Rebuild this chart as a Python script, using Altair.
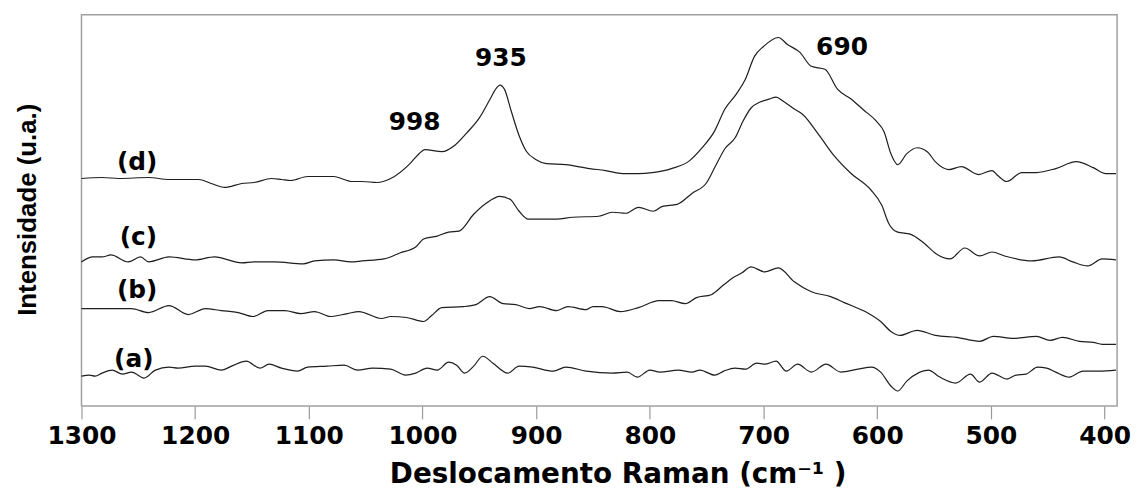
import altair as alt
import pandas as pd

# Raman shift (cm-1) and relative intensity
a_x = [1300, 1293, 1288, 1282, 1273, 1264, 1256, 1245, 1235, 1223, 1215, 1200, 1191, 1177, 1168,
       1155, 1143, 1135, 1124, 1110, 1101, 1084, 1069, 1057, 1044, 1028, 1015, 1006, 996, 987,
       977, 970, 963, 955, 947, 938, 925, 915, 903, 885, 874, 856, 833, 820, 811, 800, 791, 775,
       763, 756, 743, 735, 725, 716, 706, 699, 689, 680, 670, 658, 645, 632, 617, 605, 597, 588,
       582, 574, 555, 545, 531, 518, 510, 499, 486, 478, 469, 459, 451, 443, 431, 419, 405, 390]
a_y = [30, 31, 30, 33, 36, 32, 34, 28, 36, 39, 38, 40, 40, 36, 40, 45, 38, 42, 38, 35, 39, 40,
       41, 36, 38, 37, 31, 33, 38, 36, 44, 41, 33, 40, 50, 43, 33, 40, 39, 35, 39, 35, 33, 34,
       29, 36, 34, 36, 34, 36, 31, 35, 38, 37, 43, 42, 45, 35, 42, 34, 42, 34, 37, 39, 34, 20,
       15, 25, 36, 29, 23, 32, 24, 33, 27, 31, 32, 39, 38, 34, 29, 35, 35, 36]

b_x = [1300, 1276, 1256, 1241, 1223, 1206, 1191, 1177, 1162, 1149, 1136, 1121, 1107, 1095, 1081,
       1066, 1056, 1036, 1028, 1014, 999, 992, 983, 964, 953, 941, 929, 918, 906, 897, 882, 872,
       856, 850, 842, 826, 810, 792, 781, 769, 759, 746, 735, 727, 719, 711, 699, 687, 673, 658,
       641, 629, 609, 597, 588, 580, 565, 549, 530, 510, 498, 480, 460, 448, 437, 422, 410, 402, 390]
b_y = [98, 98, 98, 94, 101, 92, 98, 96, 94, 90, 96, 96, 93, 95, 90, 93, 95, 88, 90, 89, 85, 91,
       99, 100, 102, 110, 103, 102, 98, 100, 96, 100, 97, 100, 100, 95, 99, 106, 106, 103, 109,
       112, 122, 129, 134, 140, 135, 139, 125, 115, 110, 104, 94, 85, 75, 71, 76, 71, 69, 65,
       70, 68, 70, 66, 69, 65, 64, 62, 62]

c_x = [1300, 1290, 1282, 1274, 1259, 1248, 1241, 1223, 1200, 1183, 1159, 1148, 1130, 1105, 1095,
       1078, 1063, 1053, 1034, 1020, 1006, 999, 987, 977, 968, 955, 944, 932, 923, 915, 907, 894,
       882, 868, 845, 833, 821, 810, 797, 789, 776, 763, 750, 743, 734, 725, 718, 711, 703, 695,
       689, 683, 673, 666, 652, 638, 623, 606, 596, 590, 582, 571, 559, 548, 536, 523, 510, 499,
       488, 464, 440, 428, 415, 402, 390]
c_y = [145, 150, 150, 152, 145, 150, 145, 150, 147, 150, 144, 145, 145, 143, 146, 147, 145, 146,
       148, 154, 160, 168, 171, 175, 176, 193, 204, 211, 208, 196, 188, 188, 188, 190, 191, 195,
       194, 200, 196, 201, 203, 214, 225, 240, 259, 270, 287, 300, 306, 309, 311, 307, 299, 294,
       274, 252, 234, 218, 202, 184, 175, 173, 164, 153, 148, 159, 151, 155, 151, 146, 150, 145,
       141, 148, 147]

d_x = [1300, 1282, 1267, 1241, 1223, 1209, 1197, 1186, 1174, 1159, 1148, 1133, 1124, 1116, 1101,
       1078, 1069, 1063, 1053, 1040, 1028, 1011, 1003, 998, 983, 971, 961, 950, 941, 935, 932,
       928, 922, 915, 909, 900, 891, 874, 853, 839, 824, 810, 798, 781, 765, 754, 743, 734, 724,
       716, 708, 700, 687, 679, 668, 658, 646, 635, 623, 612, 601, 594, 588, 582, 574, 565, 556,
       549, 537, 526, 511, 499, 494, 486, 473, 460, 443, 425, 410, 399, 390]
d_y = [229, 230, 229, 230, 228, 228, 228, 224, 220, 224, 225, 229, 228, 227, 231, 231, 228, 226,
       226, 225, 229, 244, 254, 258, 256, 263, 275, 290, 308, 320, 323, 319, 297, 272, 257, 248,
       244, 243, 239, 237, 234, 234, 235, 239, 247, 260, 277, 299, 314, 329, 352, 362, 371, 364,
       356, 342, 339, 319, 309, 298, 287, 276, 254, 243, 254, 260, 256, 246, 238, 241, 233, 237,
       232, 226, 235, 235, 239, 246, 240, 234, 234]

# Curve labels and peak annotations (data coordinates)
label_text = ["(a)", "(b)", "(c)", "(d)", "998", "935", "690"]
label_x = [1254, 1251, 1250, 1251, 1007, 931, 631]
label_y = [47, 117, 170, 246, 286, 350, 361]

tick_values = [1300, 1200, 1100, 1000, 900, 800, 700, 600, 500, 400]

rows = []
for name, xs, ys in [("a", a_x, a_y), ("b", b_x, b_y), ("c", c_x, c_y), ("d", d_x, d_y)]:
    for xv, yv in zip(xs, ys):
        rows.append({"serie": name, "wn": xv, "inten": yv})
df = pd.DataFrame(rows)
lab = pd.DataFrame({"wn": label_x, "inten": label_y, "txt": label_text})

xscale = alt.Scale(domain=[389, 1300], reverse=True, nice=False, zero=False)
yscale = alt.Scale(domain=[0, 394], nice=False, zero=False)

xaxis = alt.Axis(
    title="Deslocamento Raman (cm⁻¹ )", values=tick_values, format="d", grid=False, domain=False,
    tickColor="#999999", tickSize=13, tickWidth=1.2,
    labelFont="DejaVu Sans", labelFontWeight="bold", labelFontSize=25, labelColor="black",
    labelPadding=5, labelFlush=False, labelOverlap=False,
    titleFont="DejaVu Sans", titleFontSize=28, titleFontWeight="bold", titleColor="black",
    titleX=540, titleY=77, titleBaseline="alphabetic", titleAlign="center",
)
yaxis = alt.Axis(
    title="Intensidade (u.a.)", labels=False, ticks=False, domain=False, grid=False,
    titleFont="Liberation Sans", titleFontSize=26, titleFontWeight="bold", titleColor="black",
    titleAngle=270, titleX=-46, titleY=196, titleAlign="center", titleBaseline="alphabetic",
)

lines = alt.Chart(df).mark_line(color="#1e1e1e", strokeWidth=1.2, interpolate="monotone").encode(
    x=alt.X("wn:Q", scale=xscale, axis=xaxis),
    y=alt.Y("inten:Q", scale=yscale, axis=yaxis),
    detail="serie:N",
)

texts = alt.Chart(lab).mark_text(
    font="DejaVu Sans", fontWeight="bold", fontSize=25, color="black",
    align="center", baseline="middle",
).encode(
    x=alt.X("wn:Q", scale=xscale, axis=xaxis),
    y=alt.Y("inten:Q", scale=yscale, axis=yaxis),
    text="txt:N",
)

chart = alt.layer(lines, texts).properties(
    width=1043, height=394,
    autosize=alt.AutoSizeParams(type="none"),
    padding={"left": 74, "top": 5, "right": 16, "bottom": 84},
).configure_view(stroke="#a0a0a0", strokeWidth=1.5)

chart.save("out.html", embed_options={"renderer": "svg", "actions": False})
